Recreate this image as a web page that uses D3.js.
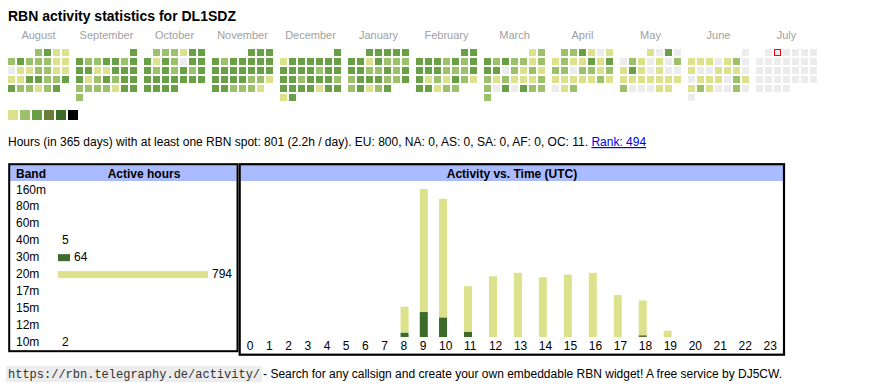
<!DOCTYPE html>
<html><head><meta charset="utf-8">
<script src="https://cdn.jsdelivr.net/npm/d3@7"></script>
<style>
body{margin:0;background:#fff;}
svg{display:block;font-family:"Liberation Sans",Arial,sans-serif;}
</style></head><body>
<svg id="c" width="870" height="390"></svg>
<script>
// ---------------- data ----------------
const callsign = "DL1SDZ";
const monthNames = ["August","September","October","November","December","January","February","March","April","May","June","July"];
const firstMonth = "2024-08-01";
const today = "2025-07-02";
// activity level per day (0 = none, 1..3 = increasing), one array per month
const levelsAug = [2,3,1,1, 2,3,2,2,2,1,1, 0,1,1,2,2,1,1, 1,1,3,3,2,2,3, 3,2,2,1,2,3];
const levelsSep = [3, 3,2,2,3,3,2,3, 3,3,1,1,3,3,3, 3,1,2,3,2,3,3, 2,2,2,2,1,3,3, 2];
const levelsOct = [2,2,2,1,3,3, 3,1,3,2,0,3,3, 3,2,3,2,3,2,3, 3,3,3,3,3,3,3, 3,3,3,3];
const levelsNov = [3,3,3, 3,2,3,3,3,3,3, 3,3,3,3,3,3,3, 3,3,3,3,2,2,1, 3,3,2,2,2,1];
const levelsDec = [3, 1,3,3,3,3,3,3, 3,3,3,3,2,3,3, 3,3,2,3,3,3,2, 3,3,3,3,1,3,3, 1,3];
const levelsJan = [3,3,3,3,3, 3,3,1,3,2,2,2, 3,3,2,2,3,2,3, 2,3,3,3,2,2,3, 2,3,1,2,3];
const levelsFeb = [3,3, 3,3,3,2,3,2,3, 3,3,3,2,2,2,3, 3,1,2,1,3,2,1, 3,3,1,2,2];
const levelsMar = [1,2, 3,2,3,2,2,1,2, 3,3,0,2,1,2,1, 2,1,2,1,1,1,2, 2,0,3,0,3,2,2, 2];
const levelsApr = [2,2,3,1,0,1, 1,2,1,1,3,1,3, 2,2,0,2,2,1,2, 1,1,1,1,1,2,1, 0,1,2];
const levelsMay = [1,0,3,0, 0,2,1,0,1,0,2, 1,3,1,0,1,0,0, 1,1,1,1,1,1,1, 2,0,0,0,1,1];
const levelsJun = [0, 1,1,1,0,1,2,0, 1,0,0,1,1,1,0, 0,1,1,1,0,2,1, 1,2,1,0,0,2,0, 0];
const levelsJul = [0,0,0,0,0,0, 0,0,0,0,0,0,0, 0,0,0,0,0,0,0, 0,0,0,0,0,0,0, 0,0,0,0];
const dayLevels = [levelsAug,levelsSep,levelsOct,levelsNov,levelsDec,levelsJan,levelsFeb,levelsMar,levelsApr,levelsMay,levelsJun,levelsJul];

const totalHours = 801, periodDays = 365, rank = 494;
const continents = ["EU","NA","AS","SA","AF","OC"];
const continentHours = [800,0,0,0,0,11];

const bands = ["160m","80m","60m","40m","30m","20m","17m","15m","12m","10m"];
const bandHours = [0,0,0,5,64,794,0,0,0,2];

const hours = d3.range(24);
const hours40m = [0,0,0,0,0,0,0,0,0,0,0,0,0,0,0,0,0,0,2,0,0,0,0,0];
const hours30m = [0,0,0,0,0,0,0,0,5,28,22,6,0,0,0,0,0,0,0,0,0,0,0,0];
const hours20m = [0,0,0,0,0,0,0,0,29,138,133,51,68,72,67,70,72,47,39,7,0,0,0,0];

// ---------------- styles ----------------
const levelColors = ["#ececec","#dbe28b","#9dc16b","#699f45"];
const legendColors = ["#dbe28b","#9dc16b","#699f45","#6a7e3a","#3d6b2a","#000000"];
const bandColors = {"160m":"#888","80m":"#888","60m":"#888","40m":"#5b6f30","30m":"#3d6b2a","20m":"#dbe28b","17m":"#888","15m":"#888","12m":"#888","10m":"#7a8a3a"};
const headerFill = "#aabbff";

const svg = d3.select("#c");
const parse = d3.timeParse("%Y-%m-%d");
const fmt = d3.timeFormat("%Y-%m-%d");

// ---------------- title ----------------
svg.append("text").attr("x",8).attr("y",21)
  .attr("font-size",14).attr("font-weight","bold").attr("fill","#000")
  .text("RBN activity statistics for " + callsign);

// ---------------- calendar ----------------
const start = parse(firstMonth);
const months = d3.timeMonths(start, d3.timeMonth.offset(start, 12));
const xMonth = d3.scaleBand().domain(d3.range(12)).range([8,817]).paddingInner(7/68);
const xDow = d3.scaleBand().domain(d3.range(7)).range([0,61]).paddingInner(2/9);
const yWeek = d3.scaleBand().domain(d3.range(6)).range([49,101]).paddingInner(2/9);

const cal = svg.append("g");
months.forEach((m,i)=>{
  cal.append("text").attr("x", xMonth(i)+xMonth.bandwidth()/2).attr("y",39)
    .attr("text-anchor","middle").attr("font-size",11).attr("fill","#a0a0a0")
    .text(monthNames[i]);
  const days = d3.timeDays(m, d3.timeMonth.offset(m,1));
  cal.append("g").selectAll("rect").data(days).join("rect")
    .attr("x", d => xMonth(i) + xDow((d.getDay()+6)%7))
    .attr("y", d => yWeek(d3.timeMonday.count(m, d)))
    .attr("width", xDow.bandwidth()).attr("height", yWeek.bandwidth())
    .attr("fill", (d,j) => levelColors[dayLevels[i][j]]);
  days.forEach(d=>{
    if (fmt(d) === today) {
      cal.append("rect")
        .attr("x", xMonth(i) + xDow((d.getDay()+6)%7) + 0.5)
        .attr("y", yWeek(d3.timeMonday.count(m, d)) + 0.5)
        .attr("width", xDow.bandwidth()-1).attr("height", yWeek.bandwidth()-1)
        .attr("fill","#f2f2f2").attr("stroke","#ff0000").attr("stroke-width",1);
    }
  });
});

// legend
const xLeg = d3.scaleBand().domain(d3.range(legendColors.length)).range([8,78]).paddingInner(2/12);
svg.append("g").selectAll("rect").data(legendColors).join("rect")
  .attr("x",(d,i)=>xLeg(i)).attr("y",110)
  .attr("width",xLeg.bandwidth()).attr("height",10).attr("fill",d=>d);

// ---------------- stats line ----------------
const st = svg.append("text").attr("x",8).attr("y",146).attr("font-size",12).attr("fill","#000");
st.append("tspan").text(
  `Hours (in ${periodDays} days) with at least one RBN spot: ${totalHours} (${(totalHours/periodDays).toFixed(1)}h / day). ` +
  continents.map((c,i)=>`${c}: ${continentHours[i]}`).join(", ") + ". ");
st.append("tspan").attr("fill","#0000ee").attr("text-decoration","underline").text(`Rank: ${rank}`);

// ---------------- band panel ----------------
const bandPanel = svg.append("g");
bandPanel.append("rect").attr("x",10).attr("y",165).attr("width",226.5).attr("height",16).attr("fill",headerFill);
bandPanel.append("rect").attr("x",9.2).attr("y",164.2).attr("width",228.3).attr("height",187)
  .attr("fill","none").attr("stroke","#000").attr("stroke-width",2);
bandPanel.append("text").attr("x",16).attr("y",177.5).attr("font-size",12).attr("font-weight","bold").text("Band");
bandPanel.append("text").attr("x",144).attr("y",177.5).attr("font-size",12).attr("font-weight","bold")
  .attr("text-anchor","middle").text("Active hours");

const yBand = d3.scalePoint().domain(bands).range([193.5,345.8]);
const xBand = d3.scaleLinear().domain([0,d3.max(bandHours)]).range([0,150]);
const bandRows = bandPanel.append("g").selectAll("g").data(bands).join("g")
  .attr("transform", b => `translate(0,${yBand(b)})`);
bandRows.append("text").attr("x",16).attr("font-size",12).text(b=>b);
bandRows.filter((b,i)=>bandHours[i]>0).append("rect")
  .attr("x",58).attr("y",-7).attr("height",7)
  .attr("width",b=>Math.floor(xBand(bandHours[bands.indexOf(b)])))
  .attr("fill",b=>bandColors[b]);
bandRows.filter((b,i)=>bandHours[i]>0).append("text")
  .attr("x",b=>58+Math.floor(xBand(bandHours[bands.indexOf(b)]))+4)
  .attr("font-size",12).text(b=>bandHours[bands.indexOf(b)]);

// ---------------- hour panel ----------------
const hp = svg.append("g");
hp.append("rect").attr("x",240.5).attr("y",165).attr("width",543).attr("height",16).attr("fill",headerFill);
hp.append("rect").attr("x",239.7).attr("y",164.2).attr("width",544.3).attr("height",190.5)
  .attr("fill","none").attr("stroke","#000").attr("stroke-width",2.2);
hp.append("text").attr("x",512).attr("y",177.5).attr("font-size",12).attr("font-weight","bold")
  .attr("text-anchor","middle").text("Activity vs. Time (UTC)");

// columns sized by label length (like an auto-layout table)
const colW = hours.map(h => 13.5 + 5.73*String(h).length);
const colStart = [0]; colW.forEach((w,i)=>colStart.push(colStart[i]+w));
const xCol = d3.scaleLinear().domain([0,colStart[24]]).range([241.2,783]);
const cellX = h => xCol(colStart[h]) + 5.5;

const hourRows = hours.map((h,i)=>({hour:h, "40m":hours40m[i], "30m":hours30m[i], "20m":hours20m[i]}));
const keys = ["40m","30m","20m"];
const stack = d3.stack().keys(keys)(hourRows);
const yHour = d3.scaleLinear()
  .domain([0, d3.max(hourRows, d=>d["40m"]+d["30m"]+d["20m"])])
  .range([337,189]);

hp.append("g").selectAll("g").data(stack).join("g")
  .attr("fill", s => bandColors[s.key])
  .selectAll("rect").data(s=>s.filter(d=>d[1]>d[0])).join("rect")
  .attr("x", d => cellX(d.data.hour)).attr("width",8)
  .attr("y", d => yHour(d[1])).attr("height", d => yHour(d[0]) - yHour(d[1]));

hp.append("g").selectAll("text").data(hours).join("text")
  .attr("x", h => cellX(h)).attr("y",350).attr("font-size",12).text(h=>h);

// ---------------- footer ----------------
const url = "https://rbn.telegraphy.de/activity/";
const urlBg = svg.append("rect").attr("fill","#ececec");
const urlText = svg.append("text").attr("x",8).attr("y",378)
  .attr("font-family","'Liberation Mono','DejaVu Sans Mono',monospace").attr("font-size",12)
  .attr("fill","#333").text(url);
const ub = urlText.node().getBBox();
urlBg.attr("x",ub.x-2).attr("y",366).attr("width",ub.width+4).attr("height",16);
svg.append("text").attr("x",ub.x+ub.width+3).attr("y",378).attr("font-size",12)
  .text("- Search for any callsign and create your own embeddable RBN widget! A free service by DJ5CW.");
</script>
</body></html>
